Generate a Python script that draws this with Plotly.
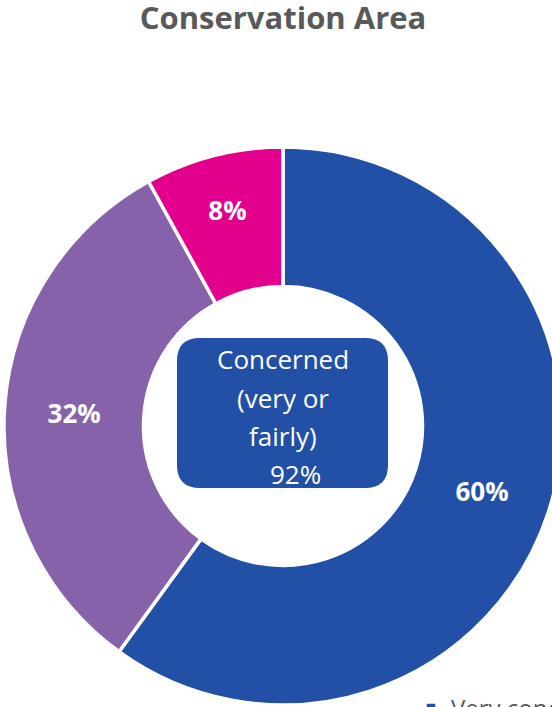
import plotly.graph_objects as go

# ---- data ----
labels = ["Very concerned", "Fairly concerned", "Not concerned"]
values = [60, 32, 8]
colors = ["#2150A6", "#8562AA", "#E3008C"]
title_text = "Conservation Area"
center_lines = ["Concerned", "(very or", "fairly)", "92%"]

# ---- layout helpers (pixel -> paper) ----
W, H = 566, 707
def px(x):
    return x / W
def py(y):
    return 1 - y / H

cx, cy, R = 283, 426, 279

fig = go.Figure(go.Pie(
    labels=labels,
    values=values,
    marker=dict(colors=colors, line=dict(color="white", width=3.5)),
    hole=0.5,
    sort=False,
    direction="clockwise",
    rotation=0,
    textinfo="percent",
    textposition="inside",
    insidetextorientation="horizontal",
    textfont=dict(family="Open Sans", size=26, color="white", weight="bold"),
    domain=dict(x=[px(cx - R), px(cx + R)], y=[py(cy + R), py(cy - R)]),
    hoverinfo="label+percent",
))

# rounded rectangle behind centre text
x0, x1, y0, y1, r = 177, 388, 338, 488, 23
path = (
    f"M {px(x0 + r)},{py(y0)} L {px(x1 - r)},{py(y0)} "
    f"Q {px(x1)},{py(y0)} {px(x1)},{py(y0 + r)} "
    f"L {px(x1)},{py(y1 - r)} Q {px(x1)},{py(y1)} {px(x1 - r)},{py(y1)} "
    f"L {px(x0 + r)},{py(y1)} Q {px(x0)},{py(y1)} {px(x0)},{py(y1 - r)} "
    f"L {px(x0)},{py(y0 + r)} Q {px(x0)},{py(y0)} {px(x0 + r)},{py(y0)} Z"
)
fig.add_shape(type="path", path=path, xref="paper", yref="paper",
              fillcolor=colors[0], line=dict(width=0), layer="above")

line_pos = [(283, 359), (283, 398), (283, 436), (295, 474)]
for txt, (x, y) in zip(center_lines, line_pos):
    fig.add_annotation(text=txt, x=px(x), y=py(y), xref="paper", yref="paper",
                       xanchor="center", yanchor="middle", showarrow=False,
                       font=dict(family="Open Sans", size=26, color="white"))

fig.update_layout(
    width=W, height=H,
    margin=dict(l=0, r=0, t=0, b=0, autoexpand=False),
    paper_bgcolor="white", plot_bgcolor="white",
    title=dict(text=title_text, x=0.5, xanchor="center", y=1 - 18 / H, yanchor="middle",
               yref="container",
               font=dict(family="Open Sans", size=31, color="#595959", weight="bold")),
    showlegend=True,
    legend=dict(orientation="h", x=px(411), xanchor="left", y=py(686), yanchor="top",
                font=dict(family="Open Sans", size=24, color="#595959")),
)

fig.write_html(
    "out.html",
    config={"displayModeBar": False},
    post_script="document.body.style.margin='0';document.body.style.overflow='hidden';"
                "document.documentElement.style.overflow='hidden';",
)
